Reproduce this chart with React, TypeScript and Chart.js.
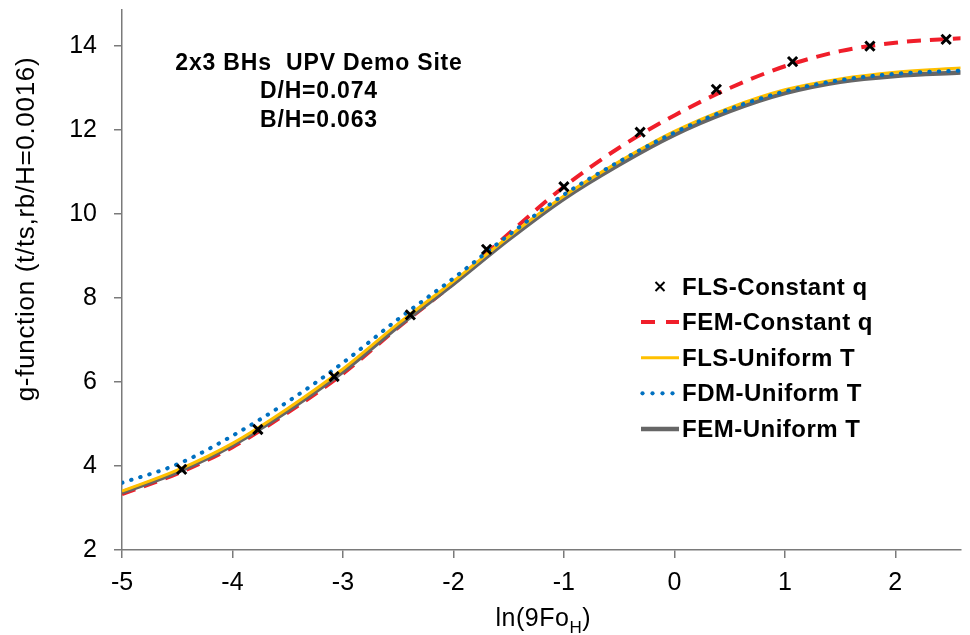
import React, { useEffect, useRef } from "react";
import { Chart, registerables } from "chart.js";
Chart.register(...registerables);

// ---- data ----
const xCurve = [-5, -4.5, -4, -3.5, -3, -2.5, -2, -1.5, -1, -0.5, 0, 0.5, 1, 1.5, 2, 2.6];
const femConstQ = [3.33, 3.82, 4.45, 5.27, 6.2, 7.3, 8.35, 9.53, 10.65, 11.58, 12.35, 13.0, 13.52, 13.88, 14.08, 14.19];
const flsUniformT = [3.4, 3.9, 4.54, 5.37, 6.31, 7.39, 8.4, 9.46, 10.43, 11.25, 11.97, 12.53, 12.96, 13.22, 13.38, 13.48];
const fdmUniformT = [3.6, 4.04, 4.72, 5.53, 6.46, 7.5, 8.47, 9.5, 10.46, 11.25, 11.94, 12.5, 12.92, 13.19, 13.34, 13.42];
const femUniformT = [3.37, 3.86, 4.5, 5.32, 6.25, 7.33, 8.34, 9.4, 10.37, 11.18, 11.89, 12.45, 12.88, 13.15, 13.29, 13.37];
const flsX = [-4.46, -3.77, -3.08, -2.39, -1.7, -1.0, -0.31, 0.38, 1.07, 1.77, 2.46];
const flsConstQ = [3.92, 4.87, 6.13, 7.6, 9.16, 10.65, 11.95, 12.97, 13.63, 14.0, 14.16];

const xTicks = [-5, -4, -3, -2, -1, 0, 1, 2];
const yTicks = [2, 4, 6, 8, 10, 12, 14];
const xMin = -5;
const xMax = 2.59;
const yMin = 2;
const yMax = 14.86;

const seriesNames = ["FLS-Constant q", "FEM-Constant q", "FLS-Uniform T", "FDM-Uniform T", "FEM-Uniform T"];
const annotationLines = ["2x3 BHs  UPV Demo Site", "D/H=0.074", "B/H=0.063"];
const yTitle = "g-function (t/ts,rb/H=0.0016)";

const FONT = "'Liberation Sans', Arial, sans-serif";
const RED = "#F01E2A";
const YELLOW = "#FFC000";
const BLUE = "#0070C0";
const GRAY = "#666666";
const AXIS = "#7a7a7a";

const toPts = (xs: number[], ys: number[]) => xs.map((x, i) => ({ x, y: ys[i] }));

const overlayPlugin = {
  id: "overlay",
  afterDraw(chart: any) {
    const ctx: CanvasRenderingContext2D = chart.ctx;
    const area = chart.chartArea;
    ctx.save();
    ctx.fillStyle = "#000";
    (ctx as any).letterSpacing = "0.8px";
    // annotation
    ctx.font = `bold 23px ${FONT}`;
    ctx.textAlign = "center";
    ctx.textBaseline = "alphabetic";
    const ax = area.left + 197;
    annotationLines.forEach((t, i) => ctx.fillText(t, ax, 70 + i * 28.3));

    // y title
    ctx.save();
    (ctx as any).letterSpacing = "0.7px";
    ctx.font = `26px ${FONT}`;
    ctx.translate(27, 229);
    ctx.rotate(-Math.PI / 2);
    ctx.textAlign = "center";
    ctx.textBaseline = "middle";
    ctx.fillText(yTitle, 0, 0);
    ctx.restore();

    // x title with subscript
    ctx.save();
    (ctx as any).letterSpacing = "0.5px";
    ctx.textAlign = "left";
    ctx.textBaseline = "alphabetic";
    ctx.font = `25px ${FONT}`;
    const p1 = "ln(9Fo";
    const p3 = ")";
    const w1 = ctx.measureText(p1).width;
    const w3 = ctx.measureText(p3).width;
    ctx.font = `17px ${FONT}`;
    const w2 = ctx.measureText("H").width;
    const total = w1 + w2 + w3;
    let cx = (area.left + area.right) / 2 - total / 2 + 2;
    ctx.font = `25px ${FONT}`;
    ctx.fillText(p1, cx, 626);
    cx += w1;
    ctx.font = `17px ${FONT}`;
    ctx.fillText("H", cx, 633);
    cx += w2;
    ctx.font = `25px ${FONT}`;
    ctx.fillText(p3, cx, 626);
    ctx.restore();

    // legend
    const lx0 = 641;
    const lx1 = 679;
    const tx = 682;
    const base0 = 294.5;
    const step = 35.6;
    ctx.font = `bold 24px ${FONT}`;
    (ctx as any).letterSpacing = "0.5px";
    ctx.textAlign = "left";
    seriesNames.forEach((name, i) => {
      const b = base0 + i * step;
      const cy = b - 8;
      ctx.save();
      ctx.lineCap = "butt";
      if (i === 0) {
        ctx.strokeStyle = "#000";
        ctx.lineWidth = 2;
        const r = 4.5;
        const mx = (lx0 + lx1) / 2;
        ctx.beginPath();
        ctx.moveTo(mx - r, cy - r);
        ctx.lineTo(mx + r, cy + r);
        ctx.moveTo(mx + r, cy - r);
        ctx.lineTo(mx - r, cy + r);
        ctx.stroke();
      } else if (i === 1) {
        ctx.strokeStyle = RED;
        ctx.lineWidth = 4;
        ctx.setLineDash([14, 11]);
        ctx.beginPath();
        ctx.moveTo(lx0, cy);
        ctx.lineTo(lx1, cy);
        ctx.stroke();
      } else if (i === 2) {
        ctx.strokeStyle = YELLOW;
        ctx.lineWidth = 3;
        ctx.beginPath();
        ctx.moveTo(lx0, cy);
        ctx.lineTo(lx1, cy);
        ctx.stroke();
      } else if (i === 3) {
        ctx.fillStyle = BLUE;
        for (let k = 0; k < 4; k++) {
          ctx.beginPath();
          ctx.arc(lx0 + 1.5 + k * 10, cy, 2.1, 0, Math.PI * 2);
          ctx.fill();
        }
      } else {
        ctx.strokeStyle = GRAY;
        ctx.lineWidth = 4.5;
        ctx.beginPath();
        ctx.moveTo(lx0, cy);
        ctx.lineTo(lx1, cy);
        ctx.stroke();
      }
      ctx.restore();
      ctx.fillStyle = "#000";
      ctx.fillText(name, tx, b);
    });
    ctx.restore();
  },
};

export default function App() {
  const ref = useRef<HTMLCanvasElement>(null);
  useEffect(() => {
    if (!ref.current) return;
    const lineBase = {
      showLine: true,
      pointRadius: 0,
      pointHoverRadius: 0,
      fill: false,
      cubicInterpolationMode: "monotone" as const,
    };
    const chart = new Chart(ref.current, {
      type: "scatter",
      data: {
        datasets: [
          {
            label: seriesNames[0],
            data: toPts(flsX, flsConstQ),
            showLine: false,
            pointStyle: "crossRot",
            pointRadius: 6.5,
            pointBorderWidth: 3,
            borderColor: "#000",
            backgroundColor: "#000",
            order: 0,
          },
          {
            ...lineBase,
            label: seriesNames[3],
            data: toPts(xCurve, fdmUniformT),
            borderColor: BLUE,
            borderWidth: 4,
            borderDash: [0.5, 9],
            borderCapStyle: "round",
            order: 1,
          },
          {
            ...lineBase,
            label: seriesNames[2],
            data: toPts(xCurve, flsUniformT),
            borderColor: YELLOW,
            borderWidth: 3,
            order: 2,
          },
          {
            ...lineBase,
            label: seriesNames[4],
            data: toPts(xCurve, femUniformT),
            borderColor: GRAY,
            borderWidth: 4.5,
            order: 3,
          },
          {
            ...lineBase,
            label: seriesNames[1],
            data: toPts(xCurve, femConstQ),
            borderColor: RED,
            borderWidth: 4,
            borderDash: [14, 9],
            order: 4,
          },
        ] as any,
      },
      options: {
        animation: false,
        responsive: false,
        maintainAspectRatio: false,
        layout: { padding: { top: 10, right: 0, bottom: 0, left: 0 } },
        plugins: {
          legend: { display: false },
          tooltip: { enabled: false },
        },
        scales: {
          x: {
            type: "linear",
            min: xMin,
            max: xMax,
            afterBuildTicks: (axis: any) => {
              axis.ticks = xTicks.map((v) => ({ value: v }));
            },
            afterFit: (s: any) => {
              s.height = 85;
              s.paddingLeft = 0;
              s.paddingRight = 0;
            },
            border: { color: AXIS, width: 1.5 },
            grid: {
              drawOnChartArea: false,
              drawTicks: true,
              tickLength: 8,
              color: AXIS,
              lineWidth: 1.5,
            },
            ticks: {
              color: "#000",
              font: { family: FONT, size: 25 },
              padding: 10,
              maxRotation: 0,
              autoSkip: false,
            },
          },
          y: {
            type: "linear",
            min: yMin,
            max: yMax,
            afterBuildTicks: (axis: any) => {
              axis.ticks = yTicks.map((v) => ({ value: v }));
            },
            afterFit: (s: any) => {
              s.width = 122;
              s.paddingTop = 0;
              s.paddingBottom = 0;
            },
            border: { color: AXIS, width: 1.5 },
            grid: {
              drawOnChartArea: false,
              drawTicks: true,
              tickLength: 8,
              color: AXIS,
              lineWidth: 1.5,
            },
            ticks: {
              color: "#000",
              font: { family: FONT, size: 25 },
              padding: 17,
              autoSkip: false,
            },
          },
        },
      },
      plugins: [overlayPlugin],
    });
    return () => chart.destroy();
  }, []);
  return (
    <div style={{ position: "fixed", left: 0, top: 0, width: 970, height: 635, background: "#fff" }}>
      <canvas ref={ref} width={970} height={635} style={{ width: 970, height: 635, display: "block" }} />
    </div>
  );
}
